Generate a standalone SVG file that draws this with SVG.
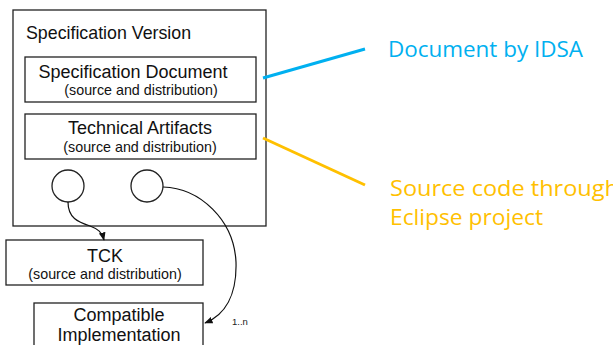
<svg xmlns="http://www.w3.org/2000/svg" width="613" height="345" viewBox="0 0 613 345">
<style>
.box{fill:#fff;stroke:#222;stroke-width:1.3}
.t{font-family:"Liberation Sans",Arial,sans-serif;fill:#111;text-anchor:middle}
.big{font-size:18px}
.small{font-size:14.3px}
.conn{fill:none;stroke:#111;stroke-width:1.2}
.cal{font-family:"Open Sans","Liberation Sans",sans-serif;font-size:21px}
</style>
<defs>
<marker id="ah" viewBox="0 0 10 10" refX="9" refY="5" markerWidth="7" markerHeight="7" orient="auto-start-reverse">
<path d="M0,1 L10,5 L0,9 z" fill="#111"/>
</marker>
</defs>
<rect width="613" height="345" fill="#fff"/>
<g id="spec-version">
<rect class="box" x="13" y="10" width="253" height="216"/>
<text class="t big" x="26" y="39" style="text-anchor:start;font-size:17.8px">Specification Version</text>
</g>
<g id="spec-document">
<rect class="box" x="25" y="57" width="231" height="45"/>
<text class="t big" x="133" y="78">Specification Document</text>
<text class="t small" x="141" y="95">(source and distribution)</text>
</g>
<g id="tech-artifacts">
<rect class="box" x="25" y="114" width="231" height="45"/>
<text class="t big" x="140" y="134">Technical Artifacts</text>
<text class="t small" x="140" y="152">(source and distribution)</text>
</g>
<g id="circle1"><circle class="box" cx="68" cy="186" r="16"/></g>
<g id="circle2"><circle class="box" cx="147" cy="186" r="16"/></g>
<g id="tck">
<rect class="box" x="6" y="240" width="197" height="45"/>
<text class="t big" x="105" y="262">TCK</text>
<text class="t small" x="105" y="279">(source and distribution)</text>
</g>
<g id="compatible">
<rect class="box" x="34" y="303" width="169" height="50"/>
<text class="t big" x="119" y="321">Compatible</text>
<text class="t big" x="119" y="341">Implementation</text>
</g>
<g id="connectors">
<path class="conn" d="M68,202 C68,218 78,222 90,226 C98,229 102,232 104,240" marker-end="url(#ah)"/>
<path class="conn" d="M163,187 C200,188 234,220 236,262 C237,295 225,315 205,323" marker-end="url(#ah)"/>
<text x="232" y="325" style="font-family:'Liberation Sans',Arial,sans-serif;font-size:9.5px;fill:#222">1..n</text>
<line x1="263" y1="78" x2="365" y2="49" stroke="#00B0F0" stroke-width="3"/>
<line x1="263" y1="138" x2="365" y2="185" stroke="#FFC000" stroke-width="3"/>
</g>
<g id="labels">
<text class="cal" x="388" y="57" fill="#00B0F0" textLength="195" lengthAdjust="spacingAndGlyphs">Document by IDSA</text>
<text class="cal" x="390" y="196" fill="#FFC000" textLength="229" lengthAdjust="spacingAndGlyphs">Source code through</text>
<text class="cal" x="390" y="225" fill="#FFC000" textLength="153" lengthAdjust="spacingAndGlyphs">Eclipse project</text>
</g>
</svg>
